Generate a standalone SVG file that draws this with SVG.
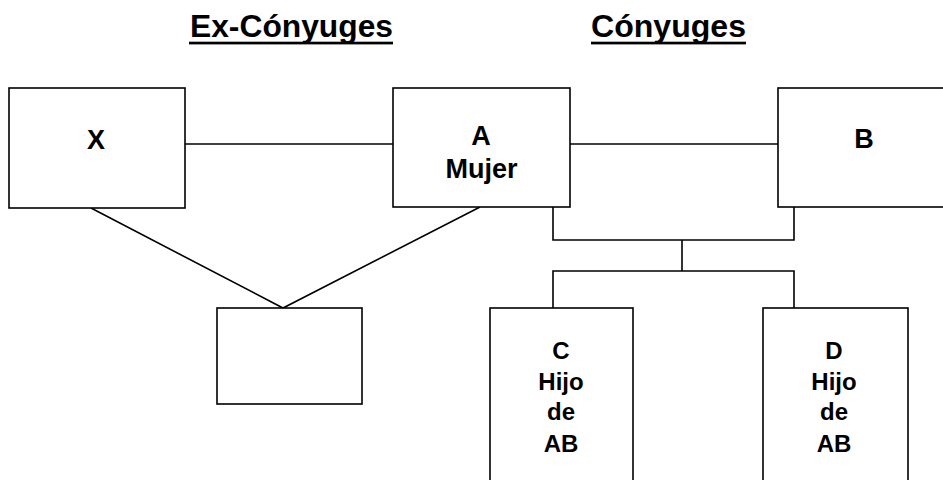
<svg xmlns="http://www.w3.org/2000/svg" width="943" height="480" viewBox="0 0 943 480">
<style>
.box{fill:#fff;stroke:#000;stroke-width:1.6}
.ln{fill:none;stroke:#000;stroke-width:1.6}
.t{font-family:"Liberation Sans",Arial,sans-serif;font-weight:bold;font-size:24px;text-anchor:middle;fill:#000}
.tb{font-size:27px}
.h{font-family:"Liberation Sans",Arial,sans-serif;font-weight:bold;font-size:32px;fill:#000}
</style>
<rect width="943" height="480" fill="#fff"/>
<g id="titles">
<text class="h" x="190" y="37" textLength="203" lengthAdjust="spacingAndGlyphs">Ex-Cónyuges</text>
<rect x="189" y="41.7" width="204" height="2.7" fill="#000"/>
<text class="h" x="591" y="37" textLength="155" lengthAdjust="spacingAndGlyphs">Cónyuges</text>
<rect x="591" y="41.7" width="155" height="2.7" fill="#000"/>
</g>
<g id="connectors">
<line class="ln" x1="185" y1="144" x2="393" y2="144"/>
<line class="ln" x1="570" y1="144" x2="778" y2="144"/>
<polyline class="ln" points="91,208 283,308 480,207"/>
<polyline class="ln" points="553,207 553,240 794,240 794,207"/>
<line class="ln" x1="682" y1="240" x2="682" y2="271"/>
<polyline class="ln" points="553,308 553,271 794,271 794,308"/>
</g>
<g id="nodeX"><rect class="box" x="9" y="88" width="176" height="120"/><text class="t tb" x="96" y="149">X</text></g>
<g id="nodeA"><rect class="box" x="393" y="88" width="177" height="119"/><text class="t tb" x="481" y="145">A</text><text class="t tb" x="481.5" y="178">Mujer</text></g>
<g id="nodeB"><rect class="box" x="778" y="88" width="175" height="119"/><text class="t tb" x="864" y="148">B</text></g>
<g id="nodeE"><rect class="box" x="217" y="308" width="145" height="96"/></g>
<g id="nodeC"><rect class="box" x="490" y="308" width="143" height="180"/><text class="t" x="561" y="359">C</text><text class="t" x="561" y="390">Hijo</text><text class="t" x="561" y="420">de</text><text class="t" x="561" y="452">AB</text></g>
<g id="nodeD"><rect class="box" x="763" y="308" width="145" height="180"/><text class="t" x="834" y="359">D</text><text class="t" x="834" y="390">Hijo</text><text class="t" x="834" y="420">de</text><text class="t" x="834" y="452">AB</text></g>
</svg>
